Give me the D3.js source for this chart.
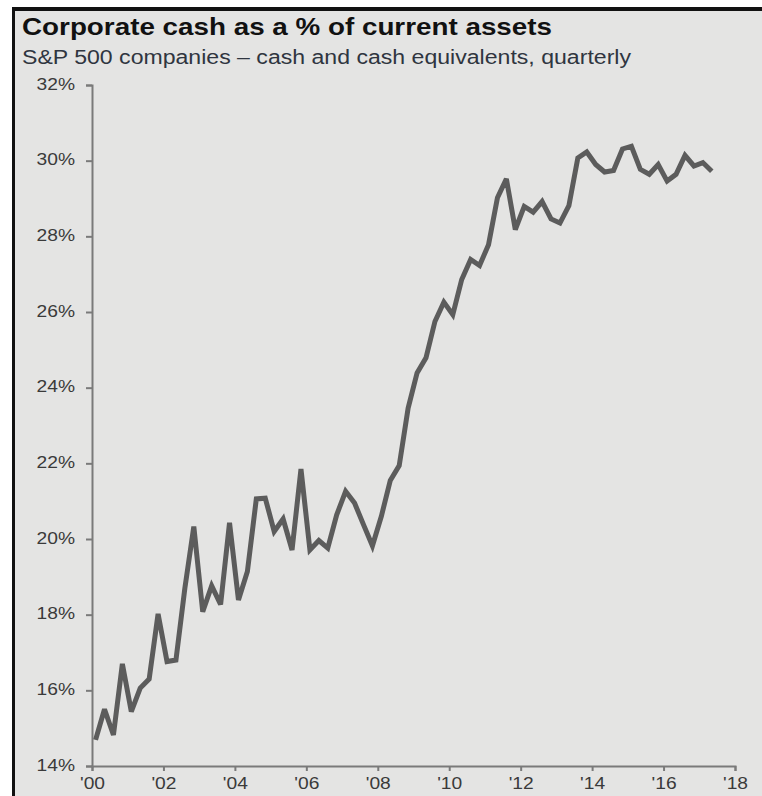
<!DOCTYPE html>
<html>
<head>
<meta charset="utf-8">
<script src="https://cdn.jsdelivr.net/npm/d3@7"></script>
<style>
  html, body { margin: 0; padding: 0; background: #ffffff; }
  svg { display: block; }
  text { font-family: "Liberation Sans", Arial, sans-serif; }
</style>
</head>
<body>
<svg id="chart" width="762" height="796"></svg>
<script>
// Quarterly observations, 1Q00 through 2Q17
const quarters = [
  "1Q00","2Q00","3Q00","4Q00","1Q01","2Q01","3Q01","4Q01",
  "1Q02","2Q02","3Q02","4Q02","1Q03","2Q03","3Q03","4Q03",
  "1Q04","2Q04","3Q04","4Q04","1Q05","2Q05","3Q05","4Q05",
  "1Q06","2Q06","3Q06","4Q06","1Q07","2Q07","3Q07","4Q07",
  "1Q08","2Q08","3Q08","4Q08","1Q09","2Q09","3Q09","4Q09",
  "1Q10","2Q10","3Q10","4Q10","1Q11","2Q11","3Q11","4Q11",
  "1Q12","2Q12","3Q12","4Q12","1Q13","2Q13","3Q13","4Q13",
  "1Q14","2Q14","3Q14","4Q14","1Q15","2Q15","3Q15","4Q15",
  "1Q16","2Q16","3Q16","4Q16","1Q17","2Q17"
];

// Cash and cash equivalents as % of current assets
const cashPct = [
  14.69, 15.50, 14.82, 16.70, 15.44, 16.06, 16.30, 18.02,
  16.76, 16.80, 18.70, 20.33, 18.08, 18.76, 18.27, 20.43,
  18.39, 19.14, 21.06, 21.08, 20.20, 20.53, 19.71, 21.85,
  19.71, 19.96, 19.76, 20.64, 21.26, 20.95, 20.38, 19.82,
  20.60, 21.55, 21.94, 23.46, 24.39, 24.79, 25.75, 26.26,
  25.93, 26.86, 27.39, 27.23, 27.78, 29.02, 29.52, 28.18,
  28.79, 28.64, 28.92, 28.46, 28.35, 28.81, 30.07, 30.23,
  29.90, 29.70, 29.74, 30.31, 30.38, 29.77, 29.64, 29.90,
  29.46, 29.64, 30.14, 29.86, 29.95, 29.72
];

const yTicks = [14, 16, 18, 20, 22, 24, 26, 28, 30, 32];
const xTicks = [2000, 2002, 2004, 2006, 2008, 2010, 2012, 2014, 2016, 2018];

const titleText = "Corporate cash as a % of current assets";
const subtitleText = "S&P 500 companies \u2013 cash and cash equivalents, quarterly";

// Turn "1Q00" into a fractional year, placed a little into its quarter
function quarterToYear(label) {
  const q = +label[0];
  const yr = 2000 + +label.slice(2);
  return yr + (q - 1) / 4 + 0.1;
}

const data = quarters.map((q, i) => ({ t: quarterToYear(q), v: cashPct[i] }));

const svg = d3.select("#chart");
const W = 762, H = 796;

// panel background and frame
svg.append("rect").attr("x", 12).attr("y", 7).attr("width", W - 12).attr("height", H - 7)
  .attr("fill", "#e4e4e3");
svg.append("line").attr("x1", 12).attr("x2", W).attr("y1", 9).attr("y2", 9)
  .attr("stroke", "#111").attr("stroke-width", 4);
svg.append("line").attr("x1", 13.5).attr("x2", 13.5).attr("y1", 7).attr("y2", H)
  .attr("stroke", "#111").attr("stroke-width", 3);

const x = d3.scaleLinear().domain([2000, 2018]).range([92, 735]);
const y = d3.scaleLinear().domain([14, 32]).range([766, 85]);

// stretch a text element horizontally to a given factor
function widen(sel, k) {
  sel.each(function () {
    const len = this.getComputedTextLength();
    d3.select(this).attr("textLength", len * k).attr("lengthAdjust", "spacingAndGlyphs");
  });
}

// titles
svg.append("text").attr("x", 22).attr("y", 35)
  .attr("font-size", 24).attr("font-weight", "bold").attr("fill", "#111")
  .text(titleText)
  .attr("textLength", 530).attr("lengthAdjust", "spacingAndGlyphs");
svg.append("text").attr("x", 22).attr("y", 64)
  .attr("font-size", 19.5).attr("fill", "#2f3540")
  .text(subtitleText)
  .attr("textLength", 609).attr("lengthAdjust", "spacingAndGlyphs");

// y axis
const yAxis = svg.append("g").attr("transform", `translate(${x(2000)},0)`)
  .call(d3.axisLeft(y).tickValues(yTicks).tickSize(6).tickPadding(11)
    .tickFormat(d => d + "%"));
// x axis
const xAxis = svg.append("g").attr("transform", `translate(0,${y(14)})`)
  .call(d3.axisBottom(x).tickValues(xTicks).tickSize(5).tickPadding(7)
    .tickFormat(d => "'" + String(d).slice(2)));

[yAxis, xAxis].forEach(g => {
  g.select(".domain").attr("stroke", "#7a7a7a").attr("stroke-width", 2);
  g.selectAll(".tick line").attr("stroke", "#7a7a7a").attr("stroke-width", 2);
  g.selectAll(".tick text").attr("font-size", 16).attr("fill", "#3a3a3a")
    .attr("font-family", "Liberation Sans, Arial, sans-serif");
});
yAxis.selectAll(".tick text").attr("dy", "0.25em");
widen(yAxis.selectAll(".tick text"), 1.2);
widen(xAxis.selectAll(".tick text"), 1.2);

// series line
const line = d3.line().x(d => x(d.t)).y(d => y(d.v));
svg.append("path").datum(data)
  .attr("d", line)
  .attr("fill", "none")
  .attr("stroke", "#5c5c5c")
  .attr("stroke-width", 5)
  .attr("stroke-linejoin", "miter")
  .attr("stroke-miterlimit", 3);
</script>
</body>
</html>
